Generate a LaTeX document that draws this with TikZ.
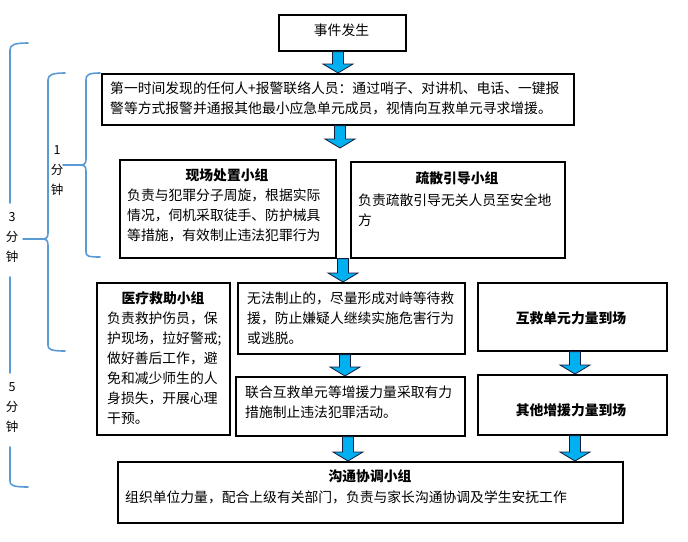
\documentclass[tikz,border=0pt]{standalone}
\usepackage{fontspec}
\setmainfont{Noto Sans CJK SC}
\usetikzlibrary{calc}
\definecolor{arrowblue}{RGB}{0,176,240}
\definecolor{arrowline}{RGB}{20,30,60}
\definecolor{bracecol}{RGB}{91,155,213}
\tikzset{
  box/.style={draw=black, line width=1.6pt, inner sep=0pt, anchor=north west},
  fatarrow/.style={fill=arrowblue, draw=arrowline, line width=0.8pt, line join=miter},
  bracestyle/.style={draw=bracecol, line width=1.6pt, line cap=round},
  bodytxt/.style={font=\fontsize{13.8}{20}\selectfont, inner sep=0pt, align=left, anchor=north west},
  titletxt/.style={font=\fontsize{13.8}{20}\selectfont\bfseries, inner sep=0pt},
  timetxt/.style={font=\fontsize{12.5}{20}\selectfont, inner sep=0pt, align=center, anchor=north}
}
\newcommand\boxat[5]{\node[box, minimum width=#4pt, minimum height=#5pt] (#1) at (#2,#3) {};}
\newcommand\fatarr[3]{%
  \draw[fatarrow] let \p1=(#2), \p2=(#3) in
    (#1pt-5.5pt,\y1) -- (#1pt+5.5pt,\y1) -- (#1pt+5.5pt,\y2+9pt) -- (#1pt+15pt,\y2+9pt)
    -- (#1pt,\y2) -- (#1pt-15pt,\y2+9pt) -- (#1pt-5.5pt,\y2+9pt) -- cycle;}
\begin{document}
\begin{tikzpicture}[x=1pt,y=-1pt]
\useasboundingbox (0,0) rectangle (688,541);
\fill[white] (0,0) rectangle (688,541);
% boxes
\boxat{b1}{278}{14}{127}{36}
\boxat{b2}{101}{73}{472}{51}
\boxat{b3}{119}{159}{216}{98}
\boxat{b4}{350}{161}{214}{96}
\boxat{b5}{96}{282}{133}{152}
\boxat{b6}{237}{282}{227}{71}
\boxat{b7}{235}{376}{229}{59}
\boxat{b8}{477}{282}{189}{68}
\boxat{b9}{477}{374}{189}{60}
\boxat{b10}{117}{461}{505}{61}
\coordinate (a2end) at (340,148);
% texts
\node[titletxt, font=\fontsize{13.8}{20}\selectfont] (t1) at (341.5,30.5) {事件发生};
\node[bodytxt] (t2) at (110,82) {第一时间发现的任何人+报警联络人员：通过哨子、对讲机、电话、一键报\\警等方式报警并通报其他最小应急单元成员，视情向互救单元寻求增援。};
\node[titletxt] (t3a) at (227,175) {现场处置小组};
\node[bodytxt] (t3b) at (127,188.5) {负责与犯罪分子周旋，根据实际\\情况，伺机采取徒手、防护械具\\等措施，有效制止违法犯罪行为};
\node[titletxt] (t4a) at (457,178) {疏散引导小组};
\node[bodytxt] (t4b) at (358,193.5) {负责疏散引导无关人员至安全地\\方};
\node[titletxt] (t5a) at (163,298) {医疗救助小组};
\node[bodytxt] (t5b) at (107,311.5) {负责救护伤员，保\\护现场，拉好警戒;\\做好善后工作，避\\免和减少师生的人\\身损失，开展心理\\干预。};
\node[bodytxt] (t6) at (247,291.5) {无法制止的，尽量形成对峙等待救\\援，防止嫌疑人继续实施危害行为\\或逃脱。};
\node[bodytxt] (t7) at (245,385.5) {联合互救单元等增援力量采取有力\\措施制止违法犯罪活动。};
\node[titletxt] (t8) at (571,318) {互救单元力量到场};
\node[titletxt] (t9) at (571,410) {其他增援力量到场};
\node[titletxt] (t10a) at (370,476) {沟通协调小组};
\node[bodytxt] (t10b) at (125,490.5) {组织单位力量，配合上级有关部门，负责与家长沟通协调及学生安抚工作};
% arrows
\fatarr{338}{b1.south}{b2.north}
\fatarr{340}{b2.south}{a2end}
\fatarr{343}{b3.south}{b6.north}
\fatarr{345}{b6.south}{b7.north}
\fatarr{348}{b7.south}{b10.north}
\fatarr{575}{b8.south}{b9.north}
\fatarr{575}{b9.south}{b10.north}
% braces
\draw[bracestyle] (100,73) .. controls (88,73) and (86,75) .. (86,80) -- (86,159)
  .. controls (86,164) and (84,165) .. (80,165) -- (63,165);
\draw[bracestyle] (80,165) .. controls (84,165) and (86,166) .. (86,171) -- (86,252)
  .. controls (86,256) and (88,257) .. (100,257);
\draw[bracestyle] (65,73) .. controls (52,73) and (48,75) .. (48,80) -- (48,233)
  .. controls (48,238) and (46,239) .. (42,239) -- (23,239);
\draw[bracestyle] (42,239) .. controls (46,239) and (48,240) .. (48,245) -- (48,345)
  .. controls (48,349) and (50,351) .. (65,351);
\draw[bracestyle] (28,43) .. controls (14,43) and (10,45) .. (10,50) -- (10,203);
\draw[bracestyle] (10,277) -- (10,373);
\draw[bracestyle] (10,447) -- (10,481) .. controls (10,485) and (12,487) .. (28,487);
\node[timetxt] (l1) at (57,145.7) {1\\分\\钟};
\node[timetxt] (l3) at (12,212.7) {3\\分\\钟};
\node[timetxt] (l5) at (12,382.7) {5\\分\\钟};
\end{tikzpicture}
\end{document}
